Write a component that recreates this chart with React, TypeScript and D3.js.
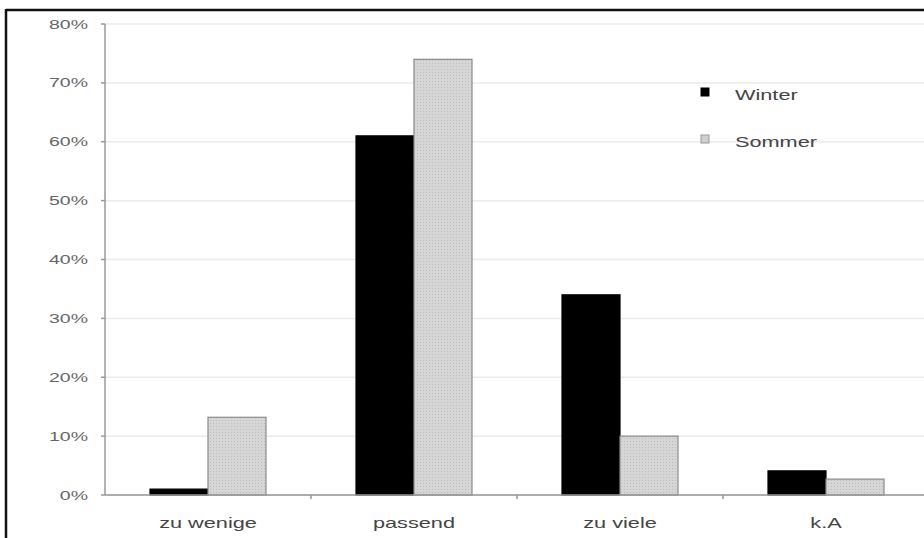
import React from "react";
import * as d3 from "d3";

const categories = ["zu wenige", "passend", "zu viele", "k.A"];
const seriesNames = ["Winter", "Sommer"];
const winter = [0.01, 0.61, 0.34, 0.041];
const sommer = [0.132, 0.74, 0.10, 0.027];
const yTicks = [0, 0.1, 0.2, 0.3, 0.4, 0.5, 0.6, 0.7, 0.8];

const W = 924;
const H = 538;

export default function App() {
  const left = 105;
  const step = 206;
  const x = d3
    .scaleBand<string>()
    .domain(categories)
    .range([left, left + step * categories.length])
    .padding(0);
  const sub = d3
    .scaleBand<string>()
    .domain(seriesNames)
    .range([0, x.bandwidth()])
    .paddingInner(0)
    .paddingOuter((step / 58 - 2) / 2);
  const y = d3.scaleLinear().domain([0, 0.8]).range([495, 24]);
  const fmt = d3.format(".0%");
  const values = [winter, sommer];
  const font = "Liberation Sans, Arial, sans-serif";
  const sx = 1.55;

  return (
    <svg
      width={W}
      height={H}
      style={{ position: "absolute", left: 0, top: 0, background: "#fff" }}
    >
      <defs>
        <pattern id="dots" width="3" height="3" patternUnits="userSpaceOnUse">
          <rect width="3" height="3" fill="#d6d6d6" />
          <rect width="1" height="1" fill="#bdbdbd" />
        </pattern>
      </defs>
      {/* frame */}
      <line x1={6} x2={W} y1={10} y2={10} stroke="#111" strokeWidth={2.5} />
      <line x1={6} x2={6} y1={9} y2={H} stroke="#111" strokeWidth={2.5} />

      {/* gridlines */}
      {yTicks.map((t) => (
        <line
          key={"g" + t}
          x1={left}
          x2={W}
          y1={y(t)}
          y2={y(t)}
          stroke="#ebebeb"
          strokeWidth={1.5}
        />
      ))}

      {/* bars */}
      {categories.map((c, i) =>
        seriesNames.map((s, k) => {
          const bx = (x(c) as number) + (sub(s) as number);
          const v = values[k][i];
          return (
            <rect
              key={c + s}
              x={bx}
              y={y(v)}
              width={sub.bandwidth()}
              height={y(0) - y(v)}
              fill={k === 0 ? "#000" : "url(#dots)"}
              stroke={k === 0 ? "#000" : "#8a8a8a"}
              strokeWidth={1.2}
            />
          );
        })
      )}

      {/* y axis */}
      <line x1={left} x2={left} y1={y(0.8)} y2={y(0)} stroke="#999" strokeWidth={1.5} />
      {yTicks.map((t) => (
        <g key={"t" + t}>
          <line x1={left - 4} x2={left} y1={y(t)} y2={y(t)} stroke="#999" strokeWidth={1.5} />
          <g transform={`translate(${88},${y(t)}) scale(${1.5},1)`}>
            <text
              x={0}
              y={0}
              dy="0.35em"
              textAnchor="end"
              fontFamily={font}
              fontSize={13}
              fill="#666"
            >
              {fmt(t)}
            </text>
          </g>
        </g>
      ))}

      {/* x axis */}
      <line x1={left} x2={W} y1={y(0)} y2={y(0)} stroke="#999" strokeWidth={1.5} />
      {categories.map((c, i) => (
        <g key={"x" + c}>
          {i > 0 && (
            <line
              x1={x(c) as number}
              x2={x(c) as number}
              y1={y(0)}
              y2={y(0) + 4}
              stroke="#999"
              strokeWidth={1.5}
            />
          )}
          <g transform={`translate(${(x(c) as number) + x.bandwidth() / 2},${528}) scale(${sx},1)`}>
            <text
              x={0}
              y={0}
              textAnchor="middle"
              fontFamily={font}
              fontSize={14}
              fill="#444"
            >
              {c}
            </text>
          </g>
        </g>
      ))}

      {/* legend */}
      {seriesNames.map((s, k) => (
        <g key={"l" + s} transform={`translate(705, ${92 + k * 47})`}>
          <rect
            x={-4}
            y={-4}
            width={8}
            height={8}
            fill={k === 0 ? "#000" : "#d0d0d0"}
            stroke={k === 0 ? "#000" : "#999"}
            strokeWidth={1}
          />
          <g transform={`translate(30,3) scale(${sx},1)`}>
            <text x={0} y={0} dy="0.35em" fontFamily={font} fontSize={14} fill="#444">
              {s}
            </text>
          </g>
        </g>
      ))}
    </svg>
  );
}
